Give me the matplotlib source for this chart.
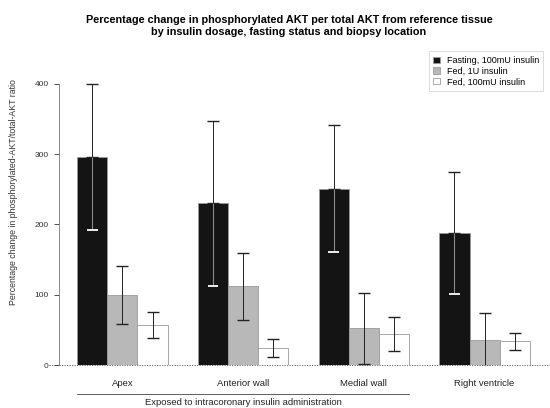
import matplotlib.pyplot as plt
import numpy as np

plt.rcParams['font.family'] = ['Liberation Sans', 'DejaVu Sans']

# Data (mean percentage change, symmetric error)
locations = ["Apex", "Anterior wall", "Medial wall", "Right ventricle"]
series = ["Fasting, 100mU insulin", "Fed, 1U insulin", "Fed, 100mU insulin"]
fasting = [296, 230, 251, 188]
fed_1u = [100, 112, 52, 36]
fed_100mu = [57, 24, 44, 34]
err_fasting = [104, 117, 90, 87]
err_fed_1u = [41, 48, 50, 38]
err_fed_100mu = [18, 13, 24, 12]

means = [fasting, fed_1u, fed_100mu]
errs = [err_fasting, err_fed_1u, err_fed_100mu]
colors = ["#141414", "#b8b8b8", "#ffffff"]

fig = plt.figure(figsize=(5.5, 4.08), dpi=100)
ax = fig.add_axes([59/550, (408-365)/408, (548-59)/550, 315/408])

# R-style barplot positions: groups of 3 bars, 1 bar gap between groups
group_start = 1 + 4 * np.arange(len(locations))
for k in range(3):
    x = group_start + k + 0.5
    m = np.array(means[k])
    e = np.array(errs[k])
    ax.bar(x, m, width=1.0, color=colors[k], edgecolor="#9a9a9a",
           linewidth=0.6, label=series[k], zorder=2)
    if k == 0:
        # upper half in black, lower half inside the dark bar in light grey
        ax.errorbar(x, m, yerr=[np.zeros_like(e), e], fmt="none",
                    ecolor="#222222", elinewidth=0.7, capsize=4,
                    capthick=1.0, zorder=3)
        ax.vlines(x, m - e, m, color="#8a8a8a", linewidth=0.8, zorder=4)
        ax.hlines(m - e, x - 0.18, x + 0.18, color="#eeeeee", linewidth=1.4,
                  zorder=4)
    else:
        ax.errorbar(x, m, yerr=e, fmt="none", ecolor="#222222",
                    elinewidth=0.7, capsize=4, capthick=1.0, zorder=3)

# dotted zero line
ax.plot([-0.02, 1.01], [0, 0], transform=ax.get_yaxis_transform(),
        linestyle=(0, (1.5, 1.5)), color="#555555", linewidth=0.6,
        clip_on=False, zorder=1)

ax.set_xlim(0.4, 16.6)
ax.set_ylim(0, 448)
ax.set_xticks([])
ax.set_yticks([0, 100, 200, 300, 400])
ax.tick_params(axis="y", labelsize=6, colors="#333333", length=3.5,
               width=0.6, pad=4)
for s in ["top", "right", "bottom"]:
    ax.spines[s].set_visible(False)
ax.spines["left"].set_bounds(0, 400)
ax.spines["left"].set_linewidth(0.6)
ax.spines["left"].set_color("#777777")

# group labels
for g, name in zip(group_start, locations):
    ax.text(g + 1.5, -26, name, ha="center", va="center", fontsize=6.8,
            color="#222222")

# bracket under first three groups
y_line = -41
ax.plot([group_start[0], group_start[2] + 3], [y_line, y_line],
        color="#444444", linewidth=0.6, clip_on=False)
ax.text((group_start[0] + group_start[2] + 3) / 2, -53,
        "Exposed to intracoronary insulin administration",
        ha="center", va="center", fontsize=6.8, color="#222222")

fig.text(14/550, 1 - 192/408,
         "Percentage change in phosphorylated-AKT/total-AKT ratio",
         rotation=90, ha="center", va="center", fontsize=6.3, color="#333333")

fig.text(289/550, 1 - 26/408,
         "Percentage change in phosphorylated AKT per total AKT from reference tissue\n"
         "by insulin dosage, fasting status and biopsy location",
         ha="center", va="center", fontsize=7.8, weight="bold", linespacing=1.2)

leg = ax.legend(loc="upper right", bbox_to_anchor=(1.0, 1.01), fontsize=6.5,
                frameon=True, fancybox=False, handlelength=0.7,
                handleheight=0.7, handletextpad=0.8, borderpad=0.5,
                labelspacing=0.2)
leg.get_frame().set_edgecolor("#cccccc")
leg.get_frame().set_linewidth(0.6)

plt.savefig("out.png", dpi=100)
